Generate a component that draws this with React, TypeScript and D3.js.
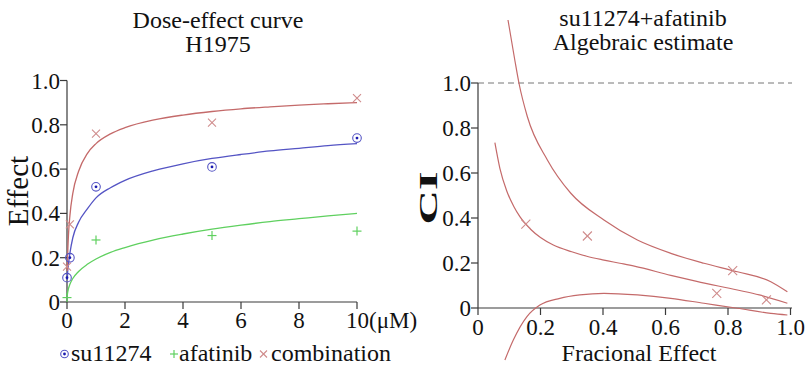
import React from "react";
import * as d3 from "d3";

// ---- Left panel: dose-effect data ----
const curveDoses = [0.01, 0.02, 0.05, 0.1, 0.2, 0.4, 0.7, 1, 1.5, 2, 3, 4, 5, 6, 7, 8, 9, 10];
const su11274Curve = [0.10, 0.13, 0.17, 0.22, 0.29, 0.36, 0.42, 0.47, 0.516, 0.549, 0.593, 0.624, 0.648, 0.666, 0.682, 0.694, 0.706, 0.715];
const combinationCurve = [0.14, 0.2, 0.3, 0.39, 0.49, 0.59, 0.67, 0.715, 0.759, 0.787, 0.822, 0.844, 0.86, 0.872, 0.881, 0.889, 0.895, 0.9];
const afatinibCurve = [0.03, 0.041, 0.06, 0.08, 0.106, 0.138, 0.17, 0.194, 0.224, 0.246, 0.281, 0.307, 0.329, 0.347, 0.363, 0.376, 0.389, 0.4];

const su11274Doses = [0, 0.1, 1, 5, 10];
const su11274Points = [0.11, 0.2, 0.52, 0.61, 0.74];
const afatinibDoses = [0, 1, 5, 10];
const afatinibPoints = [0.02, 0.28, 0.3, 0.32];
const combinationDoses = [0, 0.1, 1, 5, 10];
const combinationPoints = [0.16, 0.35, 0.76, 0.81, 0.92];

const leftYTicks = [0, 0.2, 0.4, 0.6, 0.8, 1.0];
const leftYLabels = ["0", "0.2", "0.4", "0.6", "0.8", "1.0"];
const leftXTicks = [0, 2, 4, 6, 8, 10];
const leftXLabels = ["0", "2", "4", "6", "8", "10"];

// ---- Right panel: CI data ----
const upperFa = [0.096, 0.118, 0.131, 0.158, 0.222, 0.297, 0.403, 0.51, 0.617, 0.723, 0.83, 0.937, 0.99];
const upperCI = [1.28, 1.1, 1.0, 0.85, 0.658, 0.51, 0.391, 0.302, 0.243, 0.199, 0.161, 0.117, 0.072];
const midFa = [0.054, 0.07, 0.092, 0.115, 0.134, 0.17, 0.2, 0.241, 0.3, 0.348, 0.403, 0.454, 0.5, 0.617, 0.7, 0.83, 0.9, 0.99];
const midCI = [0.735, 0.621, 0.52, 0.45, 0.406, 0.348, 0.313, 0.28, 0.25, 0.23, 0.213, 0.199, 0.186, 0.145, 0.118, 0.08, 0.058, 0.021];
const lowerFa = [0.086, 0.113, 0.156, 0.198, 0.262, 0.326, 0.403, 0.51, 0.617, 0.723, 0.83, 0.937, 0.99];
const lowerCI = [-0.231, -0.142, -0.039, 0.013, 0.043, 0.058, 0.065, 0.058, 0.043, 0.021, -0.001, -0.024, -0.031];

const ciPointFa = [0.153, 0.35, 0.764, 0.815, 0.923];
const ciPointCI = [0.373, 0.32, 0.065, 0.166, 0.036];

const rightYTicks = [0, 0.2, 0.4, 0.6, 0.8, 1.0];
const rightYLabels = ["0", "0.2", "0.4", "0.6", "0.8", "1.0"];
const rightXTicks = [0, 0.2, 0.4, 0.6, 0.8, 1.0];
const rightXLabels = ["0", "0.2", "0.4", "0.6", "0.8", "1.0"];

const BLUE = "#5454c4";
const BLUE_DOT = "#1a1ab0";
const GREEN = "#5fd05f";
const RED = "#c46a6a";
const PINK = "#cf8a8a";
const AXIS = "#3a3a3a";
const FONT = '"Liberation Serif", "DejaVu Serif", serif';
const TXT: React.CSSProperties = { fontFamily: FONT };

function Cross({ x, y, s, color }: { x: number; y: number; s: number; color: string }) {
  return (
    <g stroke={color} strokeWidth={1.1}>
      <line x1={x - s} y1={y - s} x2={x + s} y2={y + s} />
      <line x1={x - s} y1={y + s} x2={x + s} y2={y - s} />
    </g>
  );
}
function Plus({ x, y, s, color }: { x: number; y: number; s: number; color: string }) {
  return (
    <g stroke={color} strokeWidth={1.2}>
      <line x1={x - s} y1={y} x2={x + s} y2={y} />
      <line x1={x} y1={y - s} x2={x} y2={y + s} />
    </g>
  );
}
function DotCircle({ x, y, r }: { x: number; y: number; r: number }) {
  return (
    <g>
      <circle cx={x} cy={y} r={r} fill="none" stroke={BLUE} strokeWidth={1.1} />
      <circle cx={x} cy={y} r={1.4} fill={BLUE_DOT} />
    </g>
  );
}

export default function App() {
  const xL = d3.scaleLinear().domain([0, 10]).range([67, 357]);
  const yL = d3.scaleLinear().domain([0, 1]).range([302, 80.5]);
  const xR = d3.scaleLinear().domain([0, 1]).range([478, 790.5]);
  const yR = d3.scaleLinear().domain([0, 1]).range([308, 83]);

  const lineL = (vals: number[]) =>
    d3
      .line<number>()
      .x((_, i) => xL(curveDoses[i]))
      .y((v) => yL(v))
      .curve(d3.curveMonotoneX)(vals) || "";
  const lineR = (fa: number[], ci: number[]) =>
    d3
      .line<number>()
      .x((v) => xR(v))
      .y((_, i) => yR(ci[i]))
      .curve(d3.curveMonotoneX)(fa) || "";

  const tickFont = 23;

  return (
    <div style={{ position: "absolute", left: 0, top: 0 }}>
      <svg width={808} height={371} style={{ display: "block", background: "#fff", fontFamily: FONT }}>
        {/* ===== Left panel ===== */}
        <text style={TXT} x={218} y={28} fontSize={24} textAnchor="middle" fill="#111">Dose-effect curve</text>
        <text style={TXT} x={218} y={52} fontSize={24} textAnchor="middle" fill="#111">H1975</text>
        <text style={TXT} transform={`translate(28,191) rotate(-90)`} fontSize={29} textAnchor="middle" fill="#111">Effect</text>

        {/* axes */}
        <line x1={xL(0)} y1={yL(0)} x2={xL(0)} y2={yL(1)} stroke={AXIS} strokeWidth={1.2} />
        <line x1={xL(0)} y1={yL(0)} x2={xL(10)} y2={yL(0)} stroke={AXIS} strokeWidth={1.2} />
        {leftYTicks.map((t, i) => (
          <g key={"ly" + i}>
            <line x1={xL(0) - 7} x2={xL(0)} y1={yL(t)} y2={yL(t)} stroke={AXIS} strokeWidth={1.2} />
            <text style={TXT} x={xL(0) - 7} y={yL(t) + 8} fontSize={tickFont} textAnchor="end" fill="#111">{leftYLabels[i]}</text>
          </g>
        ))}
        {leftXTicks.map((t, i) => (
          <g key={"lx" + i}>
            <line x1={xL(t)} x2={xL(t)} y1={yL(0)} y2={yL(0) + 7} stroke={AXIS} strokeWidth={1.2} />
            {i < leftXTicks.length - 1 ? (
              <text style={TXT} x={xL(t)} y={328} fontSize={tickFont} textAnchor="middle" fill="#111">{leftXLabels[i]}</text>
            ) : (
              <text style={TXT} x={xL(t) - 11} y={328} fontSize={tickFont} fill="#111">
                {leftXLabels[i]}(μM)
              </text>
            )}
          </g>
        ))}

        {/* curves */}
        <path d={lineL(afatinibCurve)} fill="none" stroke={GREEN} strokeWidth={1.3} />
        <path d={lineL(su11274Curve)} fill="none" stroke={BLUE} strokeWidth={1.3} />
        <path d={lineL(combinationCurve)} fill="none" stroke={RED} strokeWidth={1.3} />

        {/* points */}
        {afatinibDoses.map((d, i) => (
          <Plus key={"ap" + i} x={xL(d)} y={yL(afatinibPoints[i])} s={4.5} color={GREEN} />
        ))}
        {combinationDoses.map((d, i) => (
          <Cross key={"cp" + i} x={xL(d)} y={yL(combinationPoints[i])} s={4} color={PINK} />
        ))}
        {su11274Doses.map((d, i) => (
          <DotCircle key={"sp" + i} x={xL(d)} y={yL(su11274Points[i])} r={4.3} />
        ))}

        {/* legend */}
        <DotCircle x={64.5} y={354} r={3.8} />
        <text style={TXT} x={71} y={361} fontSize={24} fill="#111">su11274</text>
        <Plus x={174} y={354} s={4} color={GREEN} />
        <text style={TXT} x={179} y={361} fontSize={24} fill="#111">afatinib</text>
        <Cross x={263.5} y={354} s={3.5} color={PINK} />
        <text style={TXT} x={271} y={361} fontSize={24} fill="#111">combination</text>

        {/* ===== Right panel ===== */}
        <text style={TXT} x={643} y={25.5} fontSize={24} textAnchor="middle" fill="#111">su11274+afatinib</text>
        <text style={TXT} x={643} y={50} fontSize={24} textAnchor="middle" fill="#111">Algebraic estimate</text>
        <text
          style={TXT}
          transform={`translate(437,198) rotate(-90)`}
          fontSize={26}
          fontWeight="bold"
          textAnchor="middle"
          textLength={53}
          lengthAdjust="spacingAndGlyphs"
          fill="#111"
        >
          CI
        </text>
        <text style={TXT} x={639} y={361} fontSize={24} textAnchor="middle" fill="#111">Fracional Effect</text>

        <line x1={xR(0)} y1={yR(1)} x2={792} y2={yR(1)} stroke="#777" strokeWidth={1} strokeDasharray="6,4" />
        <line x1={xR(0)} y1={yR(0)} x2={xR(0)} y2={yR(1)} stroke={AXIS} strokeWidth={1.2} />
        <line x1={xR(0)} y1={yR(0)} x2={792} y2={yR(0)} stroke={AXIS} strokeWidth={1.2} />
        {rightYTicks.map((t, i) => (
          <g key={"ry" + i}>
            <line x1={xR(0) - 7} x2={xR(0)} y1={yR(t)} y2={yR(t)} stroke={AXIS} strokeWidth={1.2} />
            <text style={TXT} x={xR(0) - 7} y={yR(t) + 8} fontSize={tickFont} textAnchor="end" fill="#111">{rightYLabels[i]}</text>
          </g>
        ))}
        {rightXTicks.map((t, i) => (
          <g key={"rx" + i}>
            <line x1={xR(t)} x2={xR(t)} y1={yR(0)} y2={yR(0) + 7} stroke={AXIS} strokeWidth={1.2} />
            <text style={TXT} x={xR(t)} y={335} fontSize={tickFont} textAnchor="middle" fill="#111">{rightXLabels[i]}</text>
          </g>
        ))}

        <path d={lineR(upperFa, upperCI)} fill="none" stroke={RED} strokeWidth={1.2} />
        <path d={lineR(midFa, midCI)} fill="none" stroke={RED} strokeWidth={1.2} />
        <path d={lineR(lowerFa, lowerCI)} fill="none" stroke={RED} strokeWidth={1.2} />
        {ciPointFa.map((f, i) => (
          <Cross key={"ci" + i} x={xR(f)} y={yR(ciPointCI[i])} s={4.5} color={PINK} />
        ))}
      </svg>
    </div>
  );
}
